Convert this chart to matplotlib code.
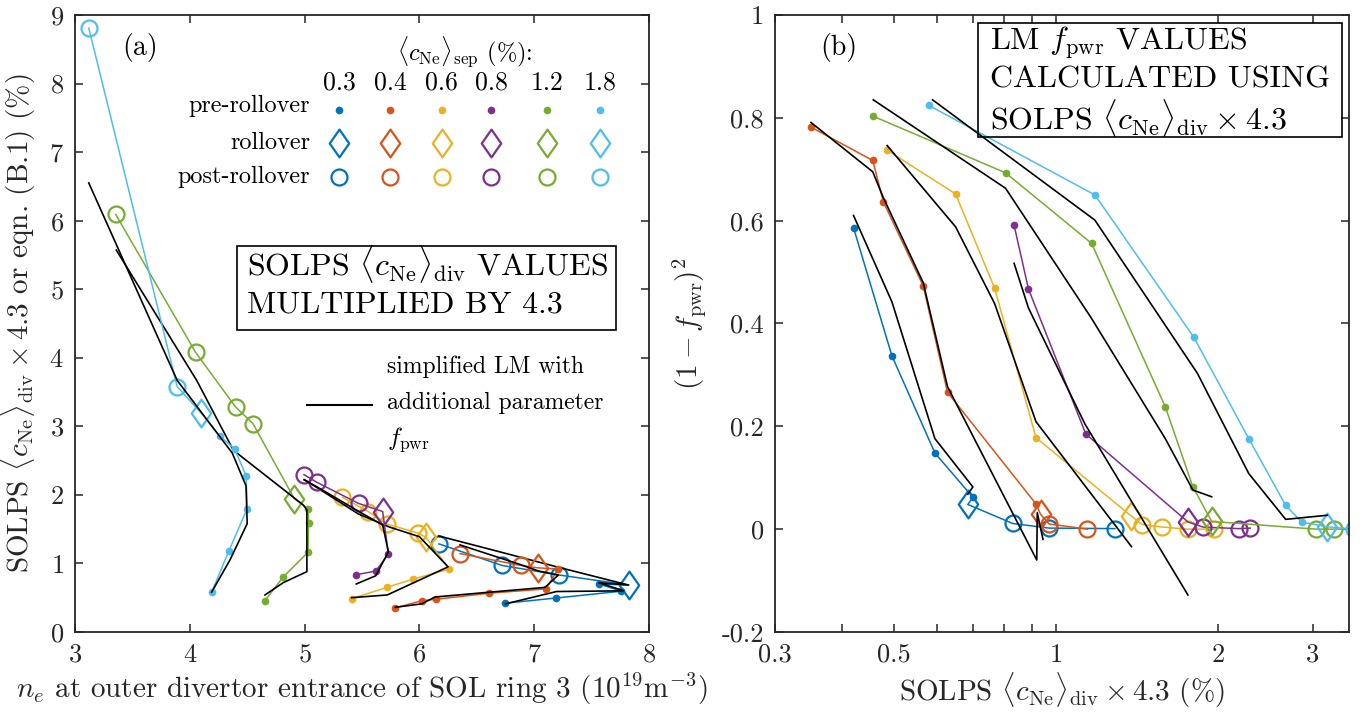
import numpy as np
import matplotlib
matplotlib.use('Agg')
import matplotlib.pyplot as plt
from matplotlib.path import Path
from matplotlib.patches import Rectangle

plt.rcParams['font.family'] = 'serif'
plt.rcParams['font.serif'] = ['cmr10']
plt.rcParams['mathtext.fontset'] = 'cm'
plt.rcParams['axes.unicode_minus'] = False
plt.rcParams['axes.formatter.use_mathtext'] = True

#Data
# <c_Ne>_sep scan values (%) and matlab default colours
cne_sep = ['0.3', '0.4', '0.6', '0.8', '1.2', '1.8']
colors = ['#0072BD', '#D95319', '#EDB120', '#7E2F8E', '#77AC30', '#4DBEEE']
n_pre = [4, 6, 4, 3, 5, 6]   # number of pre-rollover points, next one is rollover

# SOLPS <c_Ne>_div x 4.3 (%)
cdiv_03 = [0.42, 0.495, 0.595, 0.70, 0.685, 0.83, 0.97, 1.285]
cdiv_04 = [0.35, 0.456, 0.477, 0.566, 0.628, 0.917, 0.935, 0.97, 1.143]
cdiv_06 = [0.485, 0.65, 0.768, 0.917, 1.38, 1.445, 1.575, 1.755, 1.965]
cdiv_08 = [0.835, 0.888, 1.135, 1.757, 1.875, 2.185, 2.295]
cdiv_12 = [0.457, 0.805, 1.163, 1.595, 1.795, 1.945, 3.04, 3.28, 4.08, 6.09]
cdiv_18 = [0.58, 1.18, 1.80, 2.28, 2.67, 2.86, 3.19, 3.58, 8.81]

# n_e at outer divertor entrance, SOL ring 3 (1e19 m^-3)
ne_03 = [6.75, 7.19, 7.76, 7.565, 7.826, 7.22, 6.72, 6.17]
ne_04 = [5.79, 6.02, 6.145, 6.61, 7.10, 7.21, 7.036, 6.885, 6.354]
ne_06 = [5.41, 5.715, 5.94, 6.26, 6.057, 5.985, 5.715, 5.555, 5.33]
ne_08 = [5.448, 5.62, 5.73, 5.68, 5.47, 5.105, 4.995]
ne_12 = [4.655, 4.815, 5.03, 5.035, 5.03, 4.91, 4.55, 4.40, 4.05, 3.355]
ne_18 = [4.19, 4.34, 4.50, 4.49, 4.39, 4.26, 4.10, 3.89, 3.12]

# SOLPS (1 - f_pwr)^2
fp_03 = [0.586, 0.337, 0.148, 0.062, 0.048, 0.011, 0.002, 0.001]
fp_04 = [0.782, 0.717, 0.637, 0.473, 0.266, 0.049, 0.029, 0.01, 0.0]
fp_06 = [0.737, 0.652, 0.469, 0.178, 0.025, 0.009, 0.004, 0.0, 0.0]
fp_08 = [0.591, 0.467, 0.185, 0.014, 0.004, 0.001, 0.002]
fp_12 = [0.803, 0.693, 0.556, 0.238, 0.082, 0.015, 0.0, 0.0, 0.0, 0.0]
fp_18 = [0.824, 0.650, 0.374, 0.176, 0.046, 0.0136, 0.0045, 0.0, 0.0]

# simplified LM with f_pwr, panel (a): ne and c_Ne
lm_ne_03 = [6.75, 7.195, 7.78, 7.56, 7.82, 7.22, 6.72, 6.17]
lm_c_03 = [0.41, 0.59, 0.60, 0.72, 0.685, 0.94, 1.16, 1.40]
lm_ne_04 = [5.79, 6.02, 6.136, 6.61, 7.094, 7.21, 7.036, 6.885, 6.354]
lm_c_04 = [0.36, 0.41, 0.51, 0.58, 0.65, 0.83, 0.89, 0.98, 1.27]
lm_ne_06 = [5.41, 5.72, 5.94, 6.25, 6.0, 5.74, 5.47, 5.0]
lm_c_06 = [0.50, 0.54, 0.71, 0.95, 1.39, 1.53, 1.72, 2.22]
lm_ne_08 = [5.45, 5.62, 5.73, 5.68, 5.47, 5.105, 4.995]
lm_c_08 = [0.70, 0.82, 1.17, 1.56, 1.76, 2.12, 2.22]
lm_ne_12 = [4.655, 4.815, 5.02, 5.02, 4.99, 4.38, 4.06, 3.36]
lm_c_12 = [0.54, 0.72, 0.88, 1.78, 1.85, 2.65, 3.67, 5.57]
lm_ne_18 = [4.19, 4.35, 4.50, 4.49, 4.37, 3.89, 3.12]
lm_c_18 = [0.58, 1.05, 1.58, 2.13, 2.61, 3.67, 6.55]

# panel (b): LM (1 - f_pwr)^2 against SOLPS c_Ne
lm_x_03 = [0.42, 0.495, 0.595, 0.70, 0.685]
lm_f_03 = [0.61, 0.442, 0.176, 0.082, 0.068]
lm_x_04 = [0.35, 0.456, 0.477, 0.566, 0.628, 0.92, 0.922, 0.945]
lm_f_04 = [0.791, 0.695, 0.645, 0.479, 0.277, -0.06, 0.032, -0.02]
lm_x_06 = [0.485, 0.65, 0.768, 0.917, 1.38]
lm_f_06 = [0.746, 0.588, 0.439, 0.209, -0.034]
lm_x_08 = [0.835, 0.888, 1.13, 1.757]
lm_f_08 = [0.517, 0.43, 0.205, -0.128]
lm_x_12 = [0.457, 0.805, 1.163, 1.595, 1.795, 1.945]
lm_f_12 = [0.835, 0.663, 0.41, 0.176, 0.076, 0.063]
lm_x_18 = [0.589, 1.18, 1.83, 2.28, 2.67, 3.19]
lm_f_18 = [0.835, 0.601, 0.303, 0.108, 0.019, 0.027]

cdiv = [cdiv_03, cdiv_04, cdiv_06, cdiv_08, cdiv_12, cdiv_18]
ne = [ne_03, ne_04, ne_06, ne_08, ne_12, ne_18]
fp = [fp_03, fp_04, fp_06, fp_08, fp_12, fp_18]
lm_ne = [lm_ne_03, lm_ne_04, lm_ne_06, lm_ne_08, lm_ne_12, lm_ne_18]
lm_c = [lm_c_03, lm_c_04, lm_c_06, lm_c_08, lm_c_12, lm_c_18]
lm_x = [lm_x_03, lm_x_04, lm_x_06, lm_x_08, lm_x_12, lm_x_18]
lm_f = [lm_f_03, lm_f_04, lm_f_06, lm_f_08, lm_f_12, lm_f_18]

#Plotting
diamond = Path([(0, 1), (0.7, 0), (0, -1), (-0.7, 0), (0, 1)],
               [Path.MOVETO, Path.LINETO, Path.LINETO, Path.LINETO, Path.CLOSEPOLY])
axcol = '#262626'
fs = 19      # tick labels
lab_fs = 21  # axis labels
lfs = 17.5   # legend grid
mfs = 17     # model legend text
bfs = 23     # boxed notes

fig = plt.figure(figsize=(13.66, 7.17), dpi=100)
ax1 = fig.add_axes([0.0549, 0.1186, 0.4202, 0.8605])
ax2 = fig.add_axes([0.5673, 0.1186, 0.4202, 0.8605])


def draw_series(ax, x, y, c, k):
    ax.plot(x, y, '-', color=c, lw=1.1)
    ax.plot(x[:k], y[:k], 'o', ms=4.5, color=c, mec=c)
    ax.plot(x[k], y[k], marker=diamond, ms=20, mfc='none', mec=c, mew=1.6, ls='none')
    ax.plot(x[k+1:], y[k+1:], 'o', ms=11.5, mfc='none', mec=c, mew=1.6, ls='none')


for i in range(6):
    draw_series(ax1, ne[i], cdiv[i], colors[i], n_pre[i])
    ax1.plot(lm_ne[i], lm_c[i], 'k-', lw=1.2)
    draw_series(ax2, cdiv[i], fp[i], colors[i], n_pre[i])
    ax2.plot(lm_x[i], lm_f[i], 'k-', lw=1.2)

# panel (a) axes
ax1.set_xlim(3, 8)
ax1.set_ylim(0, 9)
ax1.set_xticks(range(3, 9))
ax1.set_yticks(range(0, 10))
ax1.set_xlabel(r'$n_e$ at outer divertor entrance of SOL ring 3 ($10^{19}$m$^{-3}$)', fontsize=lab_fs)
ax1.set_ylabel(r'SOLPS $\langle c_{\rm Ne}\rangle_{\rm div}\times 4.3$ or eqn. (B.1) (%)', fontsize=lab_fs)

# panel (b) axes
ax2.set_xscale('log')
ax2.set_xlim(0.3, 3.5)
ax2.set_ylim(-0.2, 1)
xt = [0.3, 0.4, 0.5, 0.6, 0.7, 0.8, 0.9, 1, 2, 3]
ax2.set_xticks(xt)
ax2.set_xticklabels(['0.3', '', '0.5', '', '', '', '', '1', '2', '3'])
ax2.xaxis.set_minor_locator(matplotlib.ticker.NullLocator())
ax2.set_yticks([-0.2, 0, 0.2, 0.4, 0.6, 0.8, 1])
ax2.set_yticklabels(['-0.2', '0', '0.2', '0.4', '0.6', '0.8', '1'])
ax2.set_xlabel(r'SOLPS $\langle c_{\rm Ne}\rangle_{\rm div}\times 4.3$ (%)', fontsize=lab_fs)
ax2.set_ylabel(r'$(1-f_{\rm pwr})^2$', fontsize=lab_fs)

for ax in (ax1, ax2):
    ax.tick_params(direction='in', top=True, right=True, length=6, width=1.1,
                   labelsize=fs, colors=axcol, pad=8)
    for s in ax.spines.values():
        s.set_linewidth(1.3)
        s.set_color(axcol)
    ax.xaxis.label.set_color(axcol)
    ax.yaxis.label.set_color(axcol)

ax1.yaxis.set_label_coords(-0.064, 0.5)
ax1.xaxis.set_label_coords(0.5, -0.063)
ax2.yaxis.set_label_coords(-0.117, 0.5)
ax2.xaxis.set_label_coords(0.5, -0.063)

# panel labels
ax1.text(0.113, 0.948, '(a)', transform=ax1.transAxes, fontsize=20, ha='center', va='center')
ax2.text(0.1115, 0.948, '(b)', transform=ax2.transAxes, fontsize=20, ha='center', va='center')

# marker legend grid in panel (a)
col_x = [0.46, 0.5488, 0.639, 0.7247, 0.8217, 0.9146]
ax1.text(0.679, 0.94, r'$\langle c_{\rm Ne}\rangle_{\rm sep}$ (%):', transform=ax1.transAxes,
         fontsize=17.5, ha='center', va='center')
for j in range(6):
    ax1.text(col_x[j], 0.8898, cne_sep[j], transform=ax1.transAxes, fontsize=18.5,
             ha='center', va='center')
    ax1.plot(col_x[j], 0.846, 'o', ms=4.5, color=colors[j], transform=ax1.transAxes)
    ax1.plot(col_x[j], 0.7925, marker=diamond, ms=20, mfc='none', mec=colors[j], mew=1.6,
             transform=ax1.transAxes)
    ax1.plot(col_x[j], 0.7374, 'o', ms=11.5, mfc='none', mec=colors[j], mew=1.6,
             transform=ax1.transAxes)
row_y = [0.852, 0.7925, 0.7374]
row_lab = ['pre-rollover', 'rollover', 'post-rollover']
for j in range(3):
    ax1.text(0.4094, row_y[j], row_lab[j], transform=ax1.transAxes, fontsize=lfs,
             ha='right', va='center')

# model legend
ax1.plot([0.404, 0.517], [0.368, 0.368], 'k-', lw=1.5, transform=ax1.transAxes)
ax1.text(0.543, 0.43, 'simplified LM with', transform=ax1.transAxes, fontsize=mfs, va='center')
ax1.text(0.543, 0.372, 'additional parameter', transform=ax1.transAxes, fontsize=mfs, va='center')
ax1.text(0.543, 0.311, r'$f_{\rm pwr}$', transform=ax1.transAxes, fontsize=mfs + 1, va='center')

# boxed notes
ax1.add_patch(Rectangle((0.282, 0.4895), 0.6605, 0.1361, transform=ax1.transAxes,
                        fill=False, ec='k', lw=1.2))
ax1.text(0.299, 0.5956, r'SOLPS $\langle c_{\rm Ne}\rangle_{\rm div}$ VALUES', transform=ax1.transAxes,
         fontsize=bfs, va='center')
ax1.text(0.299, 0.530, 'MULTIPLIED BY 4.3', transform=ax1.transAxes, fontsize=bfs, va='center')

ax2.add_patch(Rectangle((0.3531, 0.8023), 0.634, 0.1847, transform=ax2.transAxes,
                        fill=False, ec='k', lw=1.2, zorder=5))
ax2.text(0.3746, 0.9546, r'LM $f_{\rm pwr}$ VALUES', transform=ax2.transAxes, fontsize=bfs, va='center')
ax2.text(0.3746, 0.8947, 'CALCULATED USING', transform=ax2.transAxes, fontsize=bfs, va='center')
ax2.text(0.3746, 0.833, r'SOLPS $\langle c_{\rm Ne}\rangle_{\rm div}\times 4.3$', transform=ax2.transAxes,
         fontsize=bfs, va='center')

fig.savefig('out.png', dpi=100)
